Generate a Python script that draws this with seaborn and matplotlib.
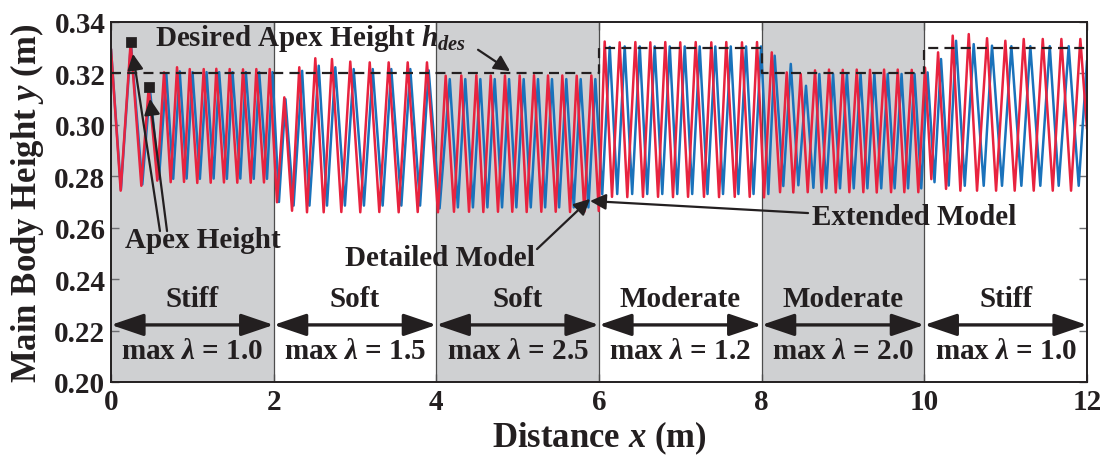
import matplotlib
matplotlib.use("Agg")
import matplotlib.pyplot as plt
import pandas as pd
import seaborn as sns

# hopping height extremes (apex / bottom), one row per terrain patch
detailed_x = [0.000, 0.119, 0.242, 0.373, 0.464, 0.569, 0.652, 0.734, 0.812, 0.898, 0.968, 1.061,
              1.140, 1.226, 1.295, 1.389, 1.459, 1.553, 1.623, 1.718, 1.787, 1.881, 1.951,
              2.041, 2.131, 2.226, 2.315, 2.410, 2.512, 2.615, 2.717, 2.832, 2.942, 3.065, 3.181,
              3.299, 3.414, 3.537, 3.648, 3.771, 3.885,
              4.020, 4.115, 4.217, 4.307, 4.402, 4.492, 4.578, 4.669, 4.758, 4.844, 4.934, 5.025,
              5.111, 5.201, 5.291, 5.373, 5.468, 5.549, 5.644, 5.726, 5.820, 5.906, 5.997,
              6.070, 6.160, 6.254, 6.348, 6.447, 6.541, 6.631, 6.726, 6.815, 6.910, 6.999, 7.095,
              7.189, 7.291, 7.381, 7.476, 7.565, 7.669, 7.758, 7.853, 7.943, 8.029,
              8.124, 8.226, 8.308, 8.389, 8.480, 8.566, 8.656, 8.738, 8.828, 8.911, 8.997, 9.078,
              9.169, 9.250, 9.332, 9.415, 9.505, 9.591, 9.673, 9.754, 9.845, 9.926, 10.009,
              10.086, 10.169, 10.267, 10.349, 10.443, 10.546, 10.648, 10.771, 10.882, 10.996,
              11.111, 11.222, 11.345, 11.456, 11.579, 11.685, 11.804, 11.918, 12.000]
detailed_y = [0.3295, 0.2744, 0.3323, 0.2763, 0.3146, 0.2783, 0.3204, 0.2777, 0.3224, 0.2778, 0.3217, 0.2774,
              0.3217, 0.2775, 0.3218, 0.2776, 0.3217, 0.2775, 0.3216, 0.2775, 0.3217, 0.2776, 0.3217,
              0.2699, 0.3107, 0.2666, 0.3224, 0.2660, 0.3259, 0.2660, 0.3256, 0.2661, 0.3246, 0.2660, 0.3243,
              0.2661, 0.3243, 0.2660, 0.3243, 0.2661, 0.3243,
              0.2660, 0.3191, 0.2662, 0.3192, 0.2662, 0.3193, 0.2661, 0.3192, 0.2662, 0.3192, 0.2662, 0.3192,
              0.2661, 0.3193, 0.2662, 0.3192, 0.2662, 0.3192, 0.2661, 0.3191, 0.2662, 0.3192, 0.2665,
              0.3324, 0.2720, 0.3321, 0.2719, 0.3322, 0.2720, 0.3321, 0.2720, 0.3322, 0.2719, 0.3321, 0.2720,
              0.3322, 0.2720, 0.3321, 0.2719, 0.3322, 0.2720, 0.3321, 0.2720, 0.3322, 0.2718,
              0.3282, 0.2738, 0.3204, 0.2737, 0.3198, 0.2738, 0.3212, 0.2738, 0.3215, 0.2737, 0.3214, 0.2738,
              0.3215, 0.2738, 0.3214, 0.2737, 0.3215, 0.2738, 0.3215, 0.2738, 0.3214, 0.2738, 0.3222,
              0.2789, 0.3282, 0.2751, 0.3347, 0.2744, 0.3353, 0.2744, 0.3337, 0.2744, 0.3327,
              0.2744, 0.3334, 0.2744, 0.3334, 0.2744, 0.3334, 0.2744, 0.3334, 0.2984]

extended_x = [0.000, 0.122, 0.245, 0.385, 0.478, 0.590, 0.680, 0.765, 0.845, 0.930, 1.002, 1.093,
              1.175, 1.262, 1.330, 1.425, 1.494, 1.590, 1.658, 1.755, 1.822, 1.918, 1.986,
              2.065, 2.145, 2.245, 2.350, 2.440, 2.554, 2.656, 2.758, 2.876, 2.984, 3.110, 3.218,
              3.340, 3.446, 3.570, 3.680, 3.800, 3.906,
              4.040, 4.165, 4.265, 4.356, 4.450, 4.541, 4.628, 4.718, 4.808, 4.894, 4.984, 5.074,
              5.161, 5.250, 5.338, 5.422, 5.510, 5.598, 5.690, 5.775, 5.870, 5.955, 6.040,
              6.132, 6.224, 6.316, 6.408, 6.501, 6.593, 6.685, 6.778, 6.870, 6.962, 7.054, 7.146,
              7.238, 7.334, 7.430, 7.525, 7.620, 7.714, 7.808, 7.900, 7.992, 8.082,
              8.160, 8.266, 8.358, 8.451, 8.545, 8.636, 8.709, 8.795, 8.878, 8.963, 9.048, 9.132,
              9.216, 9.300, 9.386, 9.470, 9.550, 9.635, 9.720, 9.800, 9.880, 9.962, 10.040,
              10.125, 10.205, 10.300, 10.390, 10.497, 10.607, 10.730, 10.832, 10.955,
              11.070, 11.193, 11.303, 11.426, 11.542, 11.652, 11.775, 11.898, 12.000]
extended_y = [0.3295, 0.2748, 0.3318, 0.2768, 0.3140, 0.2790, 0.3200, 0.2790, 0.3208, 0.2791, 0.3205, 0.2790,
              0.3205, 0.2791, 0.3205, 0.2790, 0.3205, 0.2791, 0.3205, 0.2790, 0.3205, 0.2790, 0.3205,
              0.2700, 0.3100, 0.2686, 0.3210, 0.2686, 0.3230, 0.2686, 0.3224, 0.2686, 0.3217, 0.2686, 0.3217,
              0.2686, 0.3217, 0.2686, 0.3217, 0.2686, 0.3212,
              0.2675, 0.3178, 0.2679, 0.3178, 0.2679, 0.3178, 0.2679, 0.3178, 0.2679, 0.3178, 0.2679, 0.3178,
              0.2679, 0.3178, 0.2679, 0.3178, 0.2679, 0.3178, 0.2679, 0.3178, 0.2679, 0.3178, 0.2730,
              0.3303, 0.2731, 0.3305, 0.2731, 0.3305, 0.2731, 0.3305, 0.2731, 0.3305, 0.2731, 0.3305, 0.2731,
              0.3305, 0.2731, 0.3305, 0.2731, 0.3305, 0.2731, 0.3305, 0.2731, 0.3305, 0.2731,
              0.3269, 0.2762, 0.3237, 0.2765, 0.3152, 0.2755, 0.3198, 0.2753, 0.3198, 0.2753, 0.3198, 0.2753,
              0.3198, 0.2753, 0.3198, 0.2753, 0.3198, 0.2753, 0.3198, 0.2753, 0.3198, 0.2753, 0.3204,
              0.2777, 0.3256, 0.2764, 0.3327, 0.2763, 0.3314, 0.2763, 0.3308, 0.2763,
              0.3306, 0.2763, 0.3306, 0.2763, 0.3306, 0.2763, 0.3306, 0.2763, 0.3250]

# desired apex height h_des (step profile)
hdes_x = [0, 6, 6, 8, 8, 10, 10, 12]
hdes_y = [0.32, 0.32, 0.33, 0.33, 0.32, 0.32, 0.33, 0.33]

# terrain patches
seg_edges = [0, 2, 4, 6, 8, 10, 12]
seg_names = ["Stiff", "Soft", "Soft", "Moderate", "Moderate", "Stiff"]
seg_lambda = ["1.0", "1.5", "2.5", "1.2", "2.0", "1.0"]
seg_shaded = [True, False, True, False, True, False]

# marked apex heights
apex_x = [0.242, 0.464]
apex_y = [0.3323, 0.3146]

INK = "#231f20"
RED = "#e8233f"
BLUE = "#1a72bb"

sns.set_theme(style="white")
plt.rcParams["font.family"] = ["Liberation Serif", "DejaVu Serif"]
plt.rcParams["font.weight"] = "bold"
plt.rcParams["axes.labelweight"] = "bold"
plt.rcParams["mathtext.fontset"] = "custom"
plt.rcParams["mathtext.rm"] = "Liberation Serif:bold"
plt.rcParams["mathtext.it"] = "Liberation Serif:bold:italic"
plt.rcParams["mathtext.bf"] = "Liberation Serif:bold"

fig = plt.figure(figsize=(11.11, 4.6), dpi=100)
ax = fig.add_axes([0.0999, 0.1674, 0.8785, 0.7826])

for i in range(len(seg_names)):
    if seg_shaded[i]:
        ax.axvspan(seg_edges[i], seg_edges[i + 1], color="#cfd0d2", lw=0, zorder=0)
for e in seg_edges[1:-1]:
    ax.axvline(e, color="#4d4d4d", lw=0.9, zorder=1)

ext = pd.DataFrame({"x": extended_x, "y": extended_y})
det = pd.DataFrame({"x": detailed_x, "y": detailed_y})
sns.lineplot(data=ext, x="x", y="y", color=BLUE, lw=1.8, sort=False, estimator=None,
             solid_joinstyle="round", ax=ax, zorder=3)
sns.lineplot(data=det, x="x", y="y", color=RED, lw=1.8, sort=False, estimator=None,
             solid_joinstyle="round", ax=ax, zorder=4)

ax.plot(hdes_x, hdes_y, color=INK, lw=1.6, ls=(0, (4.5, 2.8)), zorder=5)
sns.scatterplot(x=apex_x, y=apex_y, marker="s", s=45, color=INK, edgecolor=INK, ax=ax, zorder=6)

arrow = dict(arrowstyle="-|>", color=INK, lw=1.6, mutation_scale=24, shrinkA=0, shrinkB=0)
fs = 21

ax.text(0.541, 0.3338, "Desired Apex Height $h_{des}$", fontsize=fs, color=INK,
        ha="left", va="center", zorder=7)
ax.annotate("", xy=(4.906, 0.3209), xytext=(4.513, 0.3292), arrowprops=arrow, zorder=7)

ax.text(0.172, 0.2556, "Apex Height", fontsize=fs, color=INK, ha="left", va="center", zorder=7)
ax.annotate("", xy=(0.270, 0.3276), xytext=(0.602, 0.2587), arrowprops=arrow, zorder=7)
ax.annotate("", xy=(0.480, 0.3101), xytext=(0.689, 0.2587), arrowprops=arrow, zorder=7)

ax.text(2.877, 0.2486, "Detailed Model", fontsize=fs, color=INK, ha="left", va="center", zorder=7)
ax.annotate("", xy=(5.890, 0.2712), xytext=(5.238, 0.2517), arrowprops=arrow, zorder=7)

ax.text(8.619, 0.2642, "Extended Model", fontsize=fs, color=INK, ha="left", va="center", zorder=7)
ax.annotate("", xy=(5.890, 0.2704), xytext=(8.570, 0.2657), arrowprops=arrow, zorder=7)

both = dict(arrowstyle="<|-|>,head_length=0.5,head_width=0.17", color=INK, lw=2.4,
            mutation_scale=40, shrinkA=0, shrinkB=0)
for i, name in enumerate(seg_names):
    x0, x1 = seg_edges[i], seg_edges[i + 1]
    mid = (x0 + x1) / 2
    ax.text(mid, 0.2323, name, fontsize=fs, color=INK, ha="center", va="center", zorder=7)
    ax.annotate("", xy=(x1, 0.2222), xytext=(x0, 0.2222), arrowprops=both, zorder=7)
    ax.text(mid, 0.2121, "max $\\lambda$ = " + seg_lambda[i], fontsize=fs, color=INK,
            ha="center", va="center", zorder=7)

ax.set_xlim(0, 12)
ax.set_ylim(0.20, 0.34)
ax.set_xticks(range(0, 13, 2))
ax.set_yticks([0.20, 0.22, 0.24, 0.26, 0.28, 0.30, 0.32, 0.34])
ax.set_yticklabels(["0.20", "0.22", "0.24", "0.26", "0.28", "0.30", "0.32", "0.34"])
ax.tick_params(direction="in", length=6, width=1, color="#6d6e71", labelsize=fs,
               labelcolor=INK, pad=4, left=True, bottom=True, right=True, top=True)
ax.set_xlabel("Distance $x$ (m)", fontsize=25, fontweight="bold", color=INK, labelpad=3)
ax.set_ylabel("Main Body Height $y$ (m)", fontsize=25, fontweight="bold", color=INK, labelpad=6)

for s in ax.spines.values():
    s.set_color(INK)
    s.set_linewidth(1.4)
    s.set_zorder(8)

fig.savefig("out.png", dpi=100)
